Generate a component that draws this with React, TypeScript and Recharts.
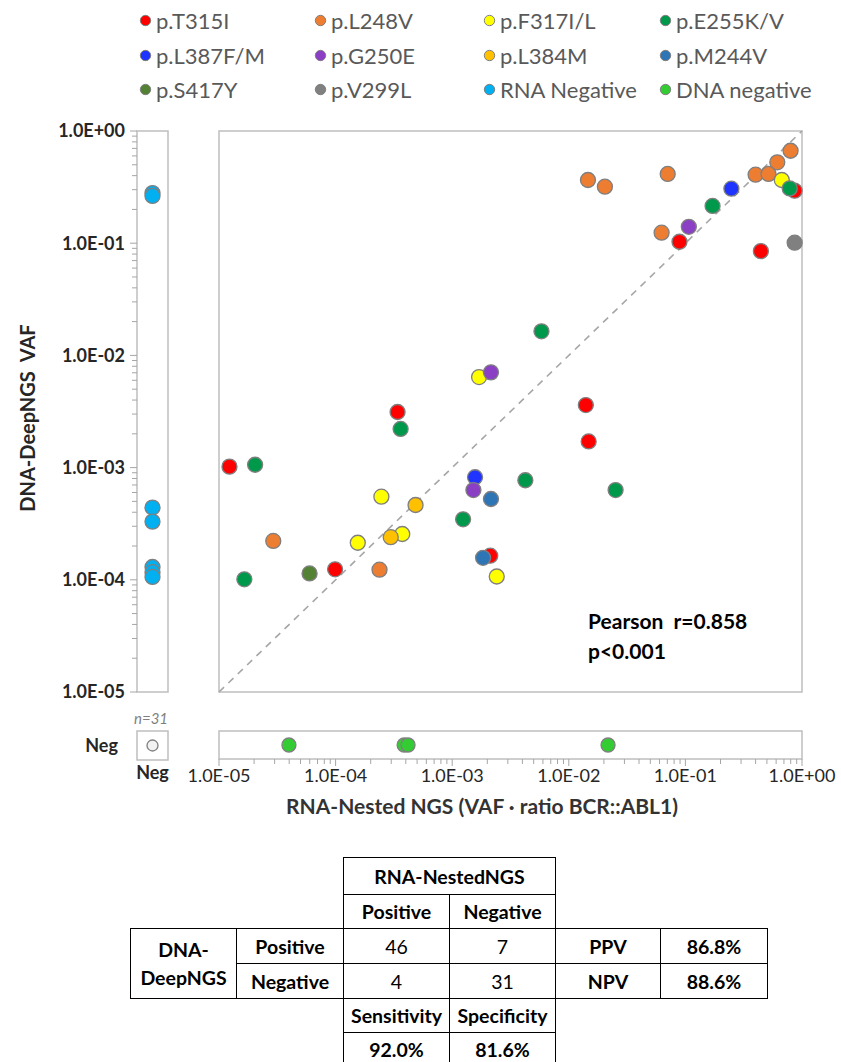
import React from "react";
import { ScatterChart, Scatter, XAxis, YAxis, ReferenceArea, ReferenceLine } from "recharts";

const FONT = "Lato, 'Noto Sans', sans-serif";
const FRAME = "#BFBFBF";
const TICK = "#A6A6A6";
const OUTLINE = "#7F7F7F";
const INK = "#262626";

// series (legend order = draw order)
const MUTATIONS = ["p.T315I", "p.L248V", "p.F317I/L", "p.E255K/V", "p.L387F/M", "p.G250E", "p.L384M", "p.M244V", "p.S417Y", "p.V299L"];
const MUTATION_COLOURS = ["#FF0000", "#ED7D31", "#FFFF00", "#00994C", "#1F35FF", "#8A3FC4", "#FFC000", "#2E75B6", "#548235", "#808080"];
const NEGATIVE_GROUPS = ["RNA Negative", "DNA negative"];
const NEGATIVE_COLOURS = ["#00B0F0", "#33CC33"];

// [RNA-Nested NGS, DNA-DeepNGS VAF]
const T315I = [[1.23e-5, 1.02e-3], [9.9e-5, 1.24e-4], [3.4e-4, 3.13e-3], [1.4e-2, 3.61e-3], [1.48e-2, 1.71e-3], [2.12e-3, 1.64e-4], [8.9e-2, 0.103], [0.444, 0.085], [0.865, 0.294]];
const L248V = [[1.46e-2, 0.366], [2.04e-2, 0.319], [7.05e-2, 0.414], [0.798, 0.667], [0.614, 0.526], [0.4, 0.408], [0.516, 0.414], [6.25e-2, 0.124], [2.92e-5, 2.22e-4], [2.38e-4, 1.23e-4]];
const F317IL = [[0.671, 0.366], [1.7e-3, 6.41e-3], [2.47e-4, 5.51e-4], [1.55e-4, 2.14e-4], [3.73e-4, 2.56e-4], [2.41e-3, 1.07e-4]];
const E255KV = [[0.785, 0.308], [0.171, 0.215], [5.83e-3, 1.64e-2], [3.61e-4, 2.21e-3], [2.04e-5, 1.06e-3], [4.24e-3, 7.71e-4], [2.52e-2, 6.31e-4], [1.24e-3, 3.46e-4], [1.65e-5, 1.01e-4]];
const L387FM = [[0.248, 0.306], [1.57e-3, 8.2e-4]];
const G250E = [[0.107, 0.14], [2.15e-3, 7.06e-3], [1.52e-3, 6.31e-4]];
const L384M = [[4.85e-4, 4.64e-4], [2.97e-4, 2.4e-4]];
const M244V = [[2.15e-3, 5.25e-4], [1.84e-3, 1.57e-4]];
const S417Y = [[5.98e-5, 1.14e-4]];
const V299L = [[0.865, 0.101]];
const MUTATION_POINTS = [T315I, L248V, F317IL, E255KV, L387FM, G250E, L384M, M244V, S417Y, V299L];

// DNA VAF of RNA-negative samples, RNA value of DNA-negative samples
const RNA_NEGATIVE_DNA = [0.28, 0.264, 4.4e-4, 3.3e-4, 1.3e-4, 1.17e-4, 1.06e-4];
const DNA_NEGATIVE_RNA = [3.98e-5, 3.87e-4, 4.18e-4, 2.17e-2];
const DOUBLE_NEGATIVE_N = 31;

const DECADES = [1e-5, 1e-4, 1e-3, 1e-2, 1e-1, 1];
const DECADE_LABELS = ["1.0E-05", "1.0E-04", "1.0E-03", "1.0E-02", "1.0E-01", "1.0E+00"];
const MINOR_STEPS = [2, 3, 4, 5, 6, 7, 8, 9];
const LOG_TICKS = [...DECADES, ...DECADES.slice(0, -1).flatMap((d) => MINOR_STEPS.map((m) => m * d))];

// 2x2 table
const RNA_HEADER = "RNA-NestedNGS";
const DNA_HEADER = "DNA-DeepNGS";
const STATUS = ["Positive", "Negative"];
const COUNTS = [[46, 7], [4, 31]];
const PRED_LABELS = ["PPV", "NPV"];
const PRED_VALUES = ["86.8%", "88.6%"];
const SENS_LABELS = ["Sensitivity", "Specificity"];
const SENS_VALUES = ["92.0%", "81.6%"];

const dot = (fill: string, r = 7.5) => (p: any) => (
  <circle cx={p.cx} cy={p.cy} r={r} fill={fill} stroke={OUTLINE} strokeWidth={1.3} />
);

function YTick(p: any) {
  const i = DECADES.indexOf(p.payload.value);
  return (
    <g>
      <line x1={p.x - (i >= 0 ? 7 : 5)} x2={p.x} y1={p.y} y2={p.y} stroke={TICK} strokeWidth={1} />
      {i >= 0 && (
        <text x={p.x - 12} y={p.y} dy="0.35em" textAnchor="end" fontSize={18} fontWeight={700} fill={INK} fontFamily={FONT}>
          {DECADE_LABELS[i]}
        </text>
      )}
    </g>
  );
}

function XTick(p: any) {
  const i = DECADES.indexOf(p.payload.value);
  return (
    <g>
      <line x1={p.x} x2={p.x} y1={p.y} y2={p.y + (i >= 0 ? 7 : 5)} stroke={TICK} strokeWidth={1} />
      {i >= 0 && (
        <text x={p.x} y={p.y + 17} dy="0.35em" textAnchor="middle" fontSize={18} fill={INK} fontFamily={FONT}>
          {DECADE_LABELS[i]}
        </text>
      )}
    </g>
  );
}

const cell = (extra: React.CSSProperties = {}): React.CSSProperties => ({
  border: "1px solid #000",
  padding: 0,
  textAlign: "center",
  whiteSpace: "nowrap",
  ...extra,
});
const B = { fontWeight: 700 };

export default function App() {
  const legend = [
    ...MUTATIONS.map((n, i) => ({ name: n, colour: MUTATION_COLOURS[i] })),
    ...NEGATIVE_GROUPS.map((n, i) => ({ name: n, colour: NEGATIVE_COLOURS[i] })),
  ];
  const legendX = [139, 314, 483, 659];
  const legendY = [20, 55, 89];

  return (
    <div style={{ position: "relative", width: 841, height: 1062, overflow: "hidden", fontFamily: FONT, background: "#fff", color: INK }}>
      <style>{"body{margin:0}"}</style>

      {legend.map((it, i) => (
        <div
          key={it.name}
          style={{
            position: "absolute",
            left: legendX[i % 4],
            top: legendY[Math.floor(i / 4)] - 15,
            height: 30,
            display: "flex",
            alignItems: "center",
            gap: 4,
            fontSize: 22,
            color: "#595959",
            whiteSpace: "nowrap",
          }}
        >
          <svg width={13} height={13}>
            <circle cx={6.5} cy={6.5} r={5.2} fill={it.colour} stroke={OUTLINE} strokeWidth={1} />
          </svg>
          <span>{it.name}</span>
        </div>
      ))}

      {/* main scatter */}
      <div style={{ position: "absolute", left: 209, top: 121 }}>
        <ScatterChart width={603} height={581} margin={{ top: 10, right: 10, bottom: 10, left: 10 }}>
          <XAxis type="number" dataKey="x" scale="log" domain={[1e-5, 1]} hide />
          <YAxis type="number" dataKey="y" scale="log" domain={[1e-5, 1]} hide />
          <ReferenceArea x1={1e-5} x2={1} y1={1e-5} y2={1} fill="none" stroke={FRAME} strokeWidth={1.5} />
          <ReferenceLine segment={[{ x: 1e-5, y: 1e-5 }, { x: 1, y: 1 }]} stroke="#A6A6A6" strokeWidth={1.6} strokeDasharray="7 6" />
          {MUTATION_POINTS.map((pts, i) => (
            <Scatter
              key={MUTATIONS[i]}
              name={MUTATIONS[i]}
              data={pts.map(([x, y]) => ({ x, y }))}
              fill={MUTATION_COLOURS[i]}
              shape={dot(MUTATION_COLOURS[i])}
              isAnimationActive={false}
            />
          ))}
        </ScatterChart>
      </div>

      {/* RNA negative strip with the y axis */}
      <div style={{ position: "absolute", left: 0, top: 111 }}>
        <ScatterChart width={172} height={601} margin={{ top: 20, right: 4, bottom: 20, left: 0 }}>
          <XAxis type="category" dataKey="rna" allowDuplicatedCategory={false} hide />
          <YAxis
            type="number"
            dataKey="y"
            scale="log"
            domain={[1e-5, 1]}
            ticks={LOG_TICKS}
            interval={0}
            width={137}
            tickSize={0}
            tickMargin={0}
            axisLine={false}
            tickLine={false}
            tick={(p: any) => <YTick {...p} />}
          />
          <ReferenceArea y1={1e-5} y2={1} fill="none" stroke={FRAME} strokeWidth={1.5} />
          <Scatter
            name={NEGATIVE_GROUPS[0]}
            data={RNA_NEGATIVE_DNA.map((y) => ({ rna: "Neg", y }))}
            fill={NEGATIVE_COLOURS[0]}
            shape={dot(NEGATIVE_COLOURS[0])}
            isAnimationActive={false}
          />
        </ScatterChart>
      </div>

      {/* DNA negative strip with the x axis */}
      <div style={{ position: "absolute", left: 179, top: 721 }}>
        <ScatterChart width={661} height={80} margin={{ top: 10, right: 38, bottom: 0, left: 40 }}>
          <XAxis
            type="number"
            dataKey="x"
            scale="log"
            domain={[1e-5, 1]}
            ticks={LOG_TICKS}
            interval={0}
            height={42}
            tickSize={0}
            tickMargin={0}
            axisLine={false}
            tickLine={false}
            tick={(p: any) => <XTick {...p} />}
          />
          <YAxis type="category" dataKey="dna" allowDuplicatedCategory={false} hide />
          <ReferenceArea x1={1e-5} x2={1} fill="none" stroke={FRAME} strokeWidth={1.5} />
          <Scatter
            name={NEGATIVE_GROUPS[1]}
            data={DNA_NEGATIVE_RNA.map((x) => ({ x, dna: "Neg" }))}
            fill={NEGATIVE_COLOURS[1]}
            shape={dot(NEGATIVE_COLOURS[1], 7)}
            isAnimationActive={false}
          />
        </ScatterChart>
      </div>

      {/* double negative box */}
      <div style={{ position: "absolute", left: 77, top: 729 }}>
        <ScatterChart width={95} height={62} margin={{ top: 2, right: 4, bottom: 0, left: 0 }}>
          <XAxis
            type="category"
            dataKey="rna"
            allowDuplicatedCategory={false}
            height={31}
            tickSize={0}
            tickMargin={6}
            axisLine={false}
            tickLine={false}
            tick={{ fontSize: 18, fontWeight: 700, fill: INK, fontFamily: FONT }}
          />
          <YAxis
            type="category"
            dataKey="dna"
            allowDuplicatedCategory={false}
            width={60}
            tickSize={0}
            tickMargin={19}
            axisLine={false}
            tickLine={false}
            tick={{ fontSize: 18, fontWeight: 700, fill: INK, fontFamily: FONT }}
          />
          <ReferenceArea x1="Neg" x2="Neg" y1="Neg" y2="Neg" fill="none" stroke={FRAME} strokeWidth={1.5} />
          <Scatter
            name="Double negative"
            data={[{ rna: "Neg", dna: "Neg", n: DOUBLE_NEGATIVE_N }]}
            fill="#F2F2F2"
            shape={dot("#F2F2F2", 5.5)}
            isAnimationActive={false}
          />
        </ScatterChart>
      </div>

      <div style={{ position: "absolute", left: 134, top: 709, fontSize: 15, fontStyle: "italic", color: "#7F7F7F" }}>
        n={DOUBLE_NEGATIVE_N}
      </div>

      <div style={{ position: "absolute", left: 588, top: 606, fontSize: 21, fontWeight: 700, color: "#000", lineHeight: "30px", whiteSpace: "pre" }}>
        {"Pearson  r=0.858\np<0.001"}
      </div>

      <div
        style={{
          position: "absolute",
          left: 27,
          top: 418,
          transform: "translate(-50%, -50%) rotate(-90deg)",
          fontSize: 20,
          fontWeight: 700,
          whiteSpace: "pre",
          color: INK,
        }}
      >
        {"DNA-DeepNGS  VAF"}
      </div>
      <div
        style={{
          position: "absolute",
          left: 482,
          top: 805,
          transform: "translate(-50%, -50%)",
          fontSize: 21,
          fontWeight: 700,
          whiteSpace: "nowrap",
          color: "#333",
        }}
      >
        RNA-Nested NGS (VAF · ratio BCR::ABL1)
      </div>

      <table
        style={{
          position: "absolute",
          left: 130,
          top: 857,
          borderCollapse: "collapse",
          tableLayout: "fixed",
          fontSize: 19.5,
          color: "#000",
        }}
      >
        <colgroup>
          {[106, 107, 106, 106, 105, 107].map((w, i) => (
            <col key={i} style={{ width: w }} />
          ))}
        </colgroup>
        <tbody>
          <tr style={{ height: 37 }}>
            <td />
            <td />
            <td colSpan={2} style={cell(B)}>{RNA_HEADER}</td>
            <td />
            <td />
          </tr>
          <tr style={{ height: 34 }}>
            <td />
            <td />
            <td style={cell(B)}>{STATUS[0]}</td>
            <td style={cell(B)}>{STATUS[1]}</td>
            <td />
            <td />
          </tr>
          {COUNTS.map((row, r) => (
            <tr key={r} style={{ height: 35 }}>
              {r === 0 && (
                <td rowSpan={2} style={cell({ ...B, lineHeight: "28px" })}>
                  {DNA_HEADER.slice(0, 4)}
                  <br />
                  {DNA_HEADER.slice(4)}
                </td>
              )}
              <td style={cell(B)}>{STATUS[r]}</td>
              <td style={cell()}>{row[0]}</td>
              <td style={cell()}>{row[1]}</td>
              <td style={cell(B)}>{PRED_LABELS[r]}</td>
              <td style={cell(B)}>{PRED_VALUES[r]}</td>
            </tr>
          ))}
          <tr style={{ height: 34 }}>
            <td />
            <td />
            <td style={cell(B)}>{SENS_LABELS[0]}</td>
            <td style={cell(B)}>{SENS_LABELS[1]}</td>
            <td />
            <td />
          </tr>
          <tr style={{ height: 33 }}>
            <td />
            <td />
            <td style={cell(B)}>{SENS_VALUES[0]}</td>
            <td style={cell(B)}>{SENS_VALUES[1]}</td>
            <td />
            <td />
          </tr>
        </tbody>
      </table>
    </div>
  );
}
